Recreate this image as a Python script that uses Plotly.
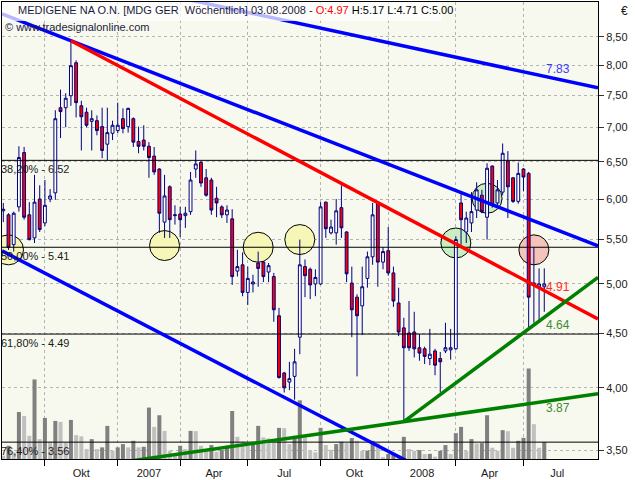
import numpy as np
import pandas as pd
import plotly.graph_objects as go

# ---------------- data ----------------
dates = pd.date_range("2006-08-06", periods=105, freq="7D")

opens = [5.85, 5.80, 5.44, 5.90, 6.63, 5.80, 5.52, 6.00, 5.70, 6.00,
         6.08, 7.30, 7.30, 7.49, 8.04, 7.33, 7.23, 7.09, 7.10, 7.01,
         6.75, 6.91, 6.95, 7.13, 7.01, 7.13, 6.79, 6.81, 6.72, 6.58,
         6.40, 5.71, 6.16, 5.79, 5.81, 5.79, 5.84, 6.40, 6.49, 6.28,
         6.25, 6.01, 5.90, 5.80, 5.75, 5.14, 5.21, 4.91, 5.00, 5.23,
         5.24, 5.13, 5.08, 4.67, 4.13, 4.05, 4.10, 4.46, 5.19, 5.16,
         5.00, 5.00, 5.96, 5.58, 5.58, 5.89, 5.59, 5.01, 4.86, 4.77,
         5.06, 5.30, 5.94, 5.24, 5.37, 5.12, 4.80, 4.55, 4.50, 4.51,
         4.36, 4.35, 4.26, 4.33, 4.26, 4.33, 4.34, 4.35, 5.95, 5.59,
         5.70, 5.86, 6.05, 5.77, 6.44, 5.95, 6.09, 6.51, 6.28, 5.97,
         6.40, 6.34, 4.99, 4.97, 4.97]
highs = [5.95, 5.82, 5.84, 6.72, 6.71, 5.96, 6.32, 6.18, 6.25, 6.13,
         7.26, 7.59, 7.53, 8.43, 8.08, 7.41, 7.30, 7.26, 7.18, 7.30,
         7.30, 7.10, 7.38, 7.29, 7.30, 7.15, 7.01, 7.03, 6.78, 6.71,
         6.41, 6.32, 6.18, 5.92, 5.90, 5.90, 6.36, 6.66, 6.51, 6.40,
         6.28, 6.16, 5.92, 5.92, 5.87, 5.38, 5.35, 5.19, 5.10, 5.36,
         5.25, 5.23, 5.12, 4.75, 4.14, 4.23, 4.35, 5.50, 5.27, 5.18,
         5.16, 5.96, 5.97, 5.74, 6.00, 6.18, 5.60, 5.19, 4.89, 5.19,
         5.36, 5.95, 5.96, 5.41, 5.65, 5.19, 4.96, 4.65, 4.82, 4.71,
         4.49, 4.37, 4.54, 4.35, 4.32, 4.60, 4.54, 5.54, 6.08, 5.84,
         6.09, 6.22, 6.12, 6.48, 6.45, 6.25, 6.76, 6.65, 6.29, 6.49,
         6.41, 6.36, 5.41, 5.17, 5.17]
lows = [5.71, 5.38, 5.36, 5.84, 5.74, 5.49, 5.46, 5.59, 5.66, 5.96,
        5.99, 6.84, 7.00, 7.33, 7.15, 6.66, 7.00, 6.66, 6.88, 6.55,
        6.52, 6.81, 6.91, 6.91, 6.92, 6.71, 6.62, 6.66, 6.28, 6.32,
        5.58, 5.52, 5.52, 5.68, 5.53, 5.64, 5.80, 6.28, 6.16, 6.03,
        5.80, 5.77, 5.76, 5.70, 4.99, 5.08, 4.87, 4.78, 4.91, 4.97,
        5.02, 5.02, 4.61, 4.08, 3.96, 3.98, 3.90, 4.30, 4.86, 4.84,
        4.87, 4.99, 5.52, 5.56, 5.44, 5.52, 5.02, 4.46, 4.10, 4.48,
        4.96, 5.21, 4.97, 5.16, 5.09, 4.76, 4.47, 3.72, 4.33, 4.27,
        4.24, 4.21, 4.20, 4.11, 3.96, 4.31, 4.25, 4.34, 5.44, 5.46,
        5.59, 5.76, 5.82, 5.50, 5.89, 5.90, 6.05, 5.76, 5.95, 5.94,
        6.10, 4.55, 4.60, 4.60, 4.71]
closes = [5.87, 5.41, 5.82, 6.56, 5.77, 5.50, 5.96, 5.62, 5.92, 6.04,
          7.13, 7.24, 7.45, 7.99, 7.38, 7.16, 7.03, 7.13, 6.95, 6.66,
          6.92, 7.03, 7.03, 6.98, 7.29, 6.78, 6.72, 6.72, 6.56, 6.36,
          5.82, 6.04, 5.74, 5.80, 5.74, 5.82, 6.25, 6.47, 6.21, 6.05,
          5.86, 5.95, 5.80, 5.86, 5.08, 5.19, 4.91, 5.06, 5.02, 5.17,
          5.08, 5.20, 4.73, 4.09, 4.00, 4.08, 4.23, 5.21, 5.09, 4.99,
          5.07, 5.90, 5.63, 5.65, 5.85, 5.64, 5.11, 4.73, 4.67, 4.97,
          5.30, 5.80, 5.24, 5.36, 5.12, 4.82, 4.51, 4.36, 4.36, 4.35,
          4.31, 4.28, 4.30, 4.20, 4.23, 4.36, 4.36, 5.50, 5.74, 5.76,
          5.84, 6.12, 5.84, 6.41, 5.92, 6.12, 6.62, 6.16, 5.97, 6.34,
          6.29, 4.86, 5.01, 5.00, 5.00]
volumes = [66, 266, 134, 946, 866, 466, 1600, 400, 826, 346,
           766, 746, 334, 786, 480, 454, 200, 400, 200, 234,
           666, 166, 234, 300, 234, 366, 234, 246, 1034, 646,
           880, 566, 166, 100, 266, 200, 566, 560, 266, 166,
           280, 146, 180, 266, 966, 446, 346, 266, 334, 666,
           434, 414, 334, 626, 620, 300, 466, 1180, 434, 180,
           134, 626, 280, 186, 300, 346, 320, 420, 366, 166,
           170, 366, 320, 34, 100, 120, 80, 446, 200, 166,
           180, 100, 104, 46, 166, 280, 100, 520, 646, 160,
           400, 314, 320, 880, 226, 166, 580, 560, 226, 366,
           426, 1820, 700, 226, 340]

fib_pcts = [38.2, 50.0, 61.8, 76.4]
fib_levels = [6.52, 5.41, 4.49, 3.56]

# trend lines: two anchors (date, price) each
trend_start = ["2006-08-06", "2006-08-06", "2006-08-06", "2006-11-05", "2008-01-27", "2008-01-27"]
trend_start_price = [10.03, 8.92, 5.36, 8.43, 3.72, 3.72]
trend_end = ["2008-08-03", "2008-08-03", "2007-09-30", "2008-08-03", "2008-08-03", "2008-08-03"]
trend_end_price = [7.81, 5.675, 3.786, 4.93, 4.655, 3.885]
trend_extend_left = [True, True, True, False, False, True]
trend_labels = ["7.83", "", "", "4.91", "4.64", "3.87"]

circle_idx = [1, 31, 49, 57, 87, 93, 102]
circle_prices = [5.38, 5.43, 5.41, 5.50, 5.46, 6.01, 5.38]

# ---------------- styles ----------------
trend_colors = ["#0000ff", "#0000ff", "#0000ff", "#ff0000", "#008000", "#008000"]
label_colors = ["#3c3cff", None, None, "#ff2a2a", "#3f8a30", "#3f8a30"]
label_yshift = [7, 0, 0, 4, -8, -7]
circle_fill = ["#f6f6b6"] * 4 + ["#c9efc0"] * 2 + ["#f4c4bb"]
FONT = "Liberation Sans"
TXT = "#1a1a1a"

x_start = dates[0] - pd.Timedelta(hours=42)
x_end = dates[-1] + pd.Timedelta(hours=1735)
y_lo, y_hi = 3.4334, 9.1605
price_range = [np.log10(y_lo), np.log10(y_hi)]


def line_value(d, d1, p1, d2, p2):
    t = (d - d1) / (d2 - d1)
    return float(np.exp(np.log(p1) + (np.log(p2) - np.log(p1)) * t))


# quarter starts (first bar of each quarter) and mid-quarter labels
q_starts = []
prev = None
for d in dates:
    q = (d.year, (d.month - 1) // 3)
    if prev is not None and q != prev:
        q_starts.append(d)
    prev = q
d = dates[-1]
q_last = (d.year, (d.month - 1) // 3)
while (d.year, (d.month - 1) // 3) == q_last:
    d = d + pd.Timedelta(days=7)
q_starts_ext = q_starts + [d]
mnames = {4: "Apr", 7: "Jul", 10: "Okt"}
label_pos, label_txt = [], []
for a, b in zip(q_starts_ext[:-1], q_starts_ext[1:]):
    label_pos.append((a + (b - a) / 2).strftime("%Y-%m-%d %H:%M"))
    label_txt.append(str(a.year) if a.month == 1 else mnames[a.month])

fig = go.Figure()

# circles on the base (lowest) layer
fig.add_trace(go.Scatter(x=[dates[i] for i in circle_idx], y=circle_prices, mode="markers",
                         marker=dict(size=30, color=circle_fill, line=dict(color="black", width=1)),
                         yaxis="y", hoverinfo="skip"))

# volume
vol_colors = ["#c0c0c0"] + ["#808080" if volumes[i] >= volumes[i - 1] else "#c0c0c0"
                            for i in range(1, len(volumes))]
fig.add_trace(go.Bar(x=dates, y=volumes, marker=dict(color=vol_colors, line=dict(width=0)),
                     width=5.4 * 86400000, yaxis="y2", hoverinfo="skip"))

# fibonacci lines
for lv in fib_levels:
    fig.add_trace(go.Scatter(x=[x_start, x_end], y=[lv, lv], mode="lines",
                             line=dict(color="black", width=1), yaxis="y3", hoverinfo="skip"))

# candles
fig.add_trace(go.Candlestick(x=dates, open=opens, high=highs, low=lows, close=closes,
                             increasing=dict(line=dict(color="#000080", width=1), fillcolor="white"),
                             decreasing=dict(line=dict(color="#000080", width=1), fillcolor="#ff0000"),
                             yaxis="y3", hoverinfo="skip"))

# trend lines
annotations = []
for k in range(len(trend_start)):
    d1, d2 = pd.Timestamp(trend_start[k]), pd.Timestamp(trend_end[k])
    p1, p2 = trend_start_price[k], trend_end_price[k]
    xs = [x_start if trend_extend_left[k] else d1, x_end]
    ys = [line_value(x, d1, p1, d2, p2) for x in xs]
    fig.add_trace(go.Scatter(x=xs, y=ys, mode="lines", line=dict(color=trend_colors[k], width=3.5),
                             yaxis="y3", hoverinfo="skip"))
    if trend_labels[k]:
        v = line_value(dates[-1], d1, p1, d2, p2)
        annotations.append(dict(x=dates[-1].strftime("%Y-%m-%d"), y=np.log10(v), xref="x", yref="y3",
                                text=trend_labels[k], showarrow=False, xanchor="left", yanchor="middle",
                                xshift=0, yshift=label_yshift[k],
                                font=dict(family=FONT, size=12, color=label_colors[k])))

for pct, lv in zip(fib_pcts, fib_levels):
    txt = f"{pct:.2f}".replace(".", ",") + f"% - {lv:.2f}"
    annotations.append(dict(x=0, y=np.log10(lv), xref="paper", yref="y3", text=txt, showarrow=False,
                            xanchor="left", yanchor="middle", xshift=-3, yshift=-9,
                            font=dict(family=FONT, size=11, color=TXT)))

title = (f"MEDIGENE NA O.N. [MDG GER&nbsp; Wöchentlich] {dates[-1]:%d.%m.%Y} - "
         f"<span style='color:#ff0000'>O:{opens[-1]:.2f}</span>"
         f"<span style='color:#000000'> H:{highs[-1]:.2f} L:{lows[-1]:.2f} C:{closes[-1]:.2f}</span>")
annotations.append(dict(x=0, y=1, xref="paper", yref="paper", text=title, showarrow=False,
                        xanchor="left", yanchor="top", xshift=14, yshift=0,
                        font=dict(family=FONT, size=11, color="#1c1c40")))
annotations.append(dict(x=0, y=1, xref="paper", yref="paper", text="© www.tradesignalonline.com",
                        showarrow=False, xanchor="left", yanchor="top", xshift=1, yshift=-17,
                        font=dict(family=FONT, size=11, color="#1c1c40")))
annotations.append(dict(x=1, y=1, xref="paper", yref="paper", text="€", showarrow=False,
                        xanchor="center", yanchor="top", xshift=26, yshift=0,
                        font=dict(family=FONT, size=12, color=TXT)))

shapes = [dict(type="rect", xref="paper", yref="paper", x0=0, x1=440 / 596, y0=1 - 19 / 459, y1=1,
               fillcolor="rgba(255,255,255,0.72)", line=dict(width=0), layer="above")]

fig.update_layout(
    width=640, height=480, margin=dict(l=2, r=42, t=1, b=20),
    paper_bgcolor="white", plot_bgcolor="#f7f9ef", showlegend=False, separators=",.",
    boxgap=0.22,
    xaxis=dict(type="date", range=[x_start, x_end], tickvals=label_pos, ticktext=label_txt,
               ticks="", showgrid=False, zeroline=False, showline=True, linecolor="black",
               linewidth=1, mirror=True, rangeslider=dict(visible=False),
               tickfont=dict(family=FONT, size=11, color=TXT), ticklabelstandoff=4,
               minor=dict(tickmode="array", tickvals=[q.strftime("%Y-%m-%d") for q in q_starts],
                          ticks="outside", ticklen=6,
                          tickcolor="black", tickwidth=1, showgrid=True, gridcolor="#b4b4b4",
                          griddash="dot", gridwidth=1)),
    yaxis=dict(type="log", range=price_range, visible=False, fixedrange=True),
    yaxis2=dict(range=[0, max(volumes) * 5.05], visible=False, fixedrange=True, overlaying="y"),
    yaxis3=dict(type="log", range=price_range, overlaying="y", side="right",
                tickvals=[3.5, 4, 4.5, 5, 5.5, 6, 6.5, 7, 7.5, 8, 8.5], tickformat=".2f",
                ticks="outside", ticklen=5, tickcolor="#333333", showgrid=True, gridcolor="#b4b4b4",
                griddash="dot", gridwidth=1, zeroline=False, showline=True, linecolor="black",
                linewidth=1, mirror=True, tickfont=dict(family=FONT, size=11, color=TXT)),
    annotations=annotations, shapes=shapes,
)

fig.write_html("out.html", post_script="document.body.style.margin='0';",
               config={"displayModeBar": False})
